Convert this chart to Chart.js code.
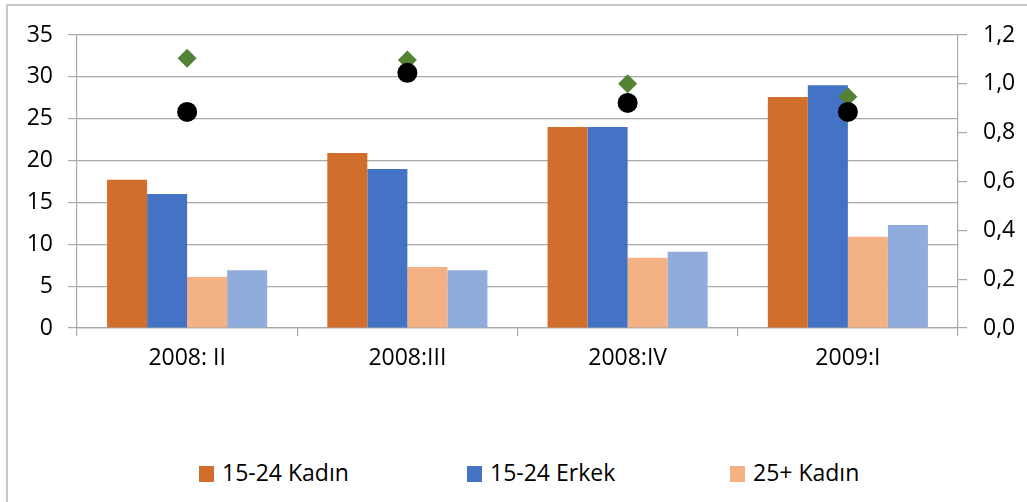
<!DOCTYPE html>
<html>
<head>
<meta charset="utf-8">
<script src="https://cdn.jsdelivr.net/npm/chart.js@4/dist/chart.umd.min.js"></script>
<style>
    body { margin: 0; background: #fff; }
    #wrap { position: relative; width: 1027px; height: 502px; overflow: hidden; font-family: 'Open Sans', sans-serif; }
    #frame { position: absolute; left: 6px; top: 4px; width: 1100px; height: 600px; border: 2px solid #c9c9c9; }
    #chartBox { position: absolute; left: 0; top: 0; width: 1027px; height: 420px; }
    .legend-item { position: absolute; top: 455px; font-size: 23px; color: #000; white-space: nowrap; line-height: 34px; }
    .legend-item span { display: inline-block; width: 15px; height: 16px; margin-right: 8px; vertical-align: -1px; }
</style>
</head>
<body>
<div id="wrap">
    <div id="frame"></div>
    <div id="chartBox"><canvas id="barChart"></canvas></div>
    <div id="legend"></div>
</div>
<script>
var categories = ['2008: II', '2008:III', '2008:IV', '2009:I'];
var kadin1524 = [17.7, 20.9, 24.0, 27.6];
var erkek1524 = [16.0, 19.0, 24.0, 29.0];
var kadin25 = [6.1, 7.3, 8.4, 10.9];
var erkek25 = [6.9, 6.9, 9.1, 12.3];
var oranDiamond = [1.105, 1.098, 1.0, 0.947];
var oranCircle = [0.885, 1.045, 0.922, 0.885];
var leftTicks = [0, 5, 10, 15, 20, 25, 30, 35];
var rightTicks = [0, 0.2, 0.4, 0.6, 0.8, 1.0, 1.2];

var gridColor = '#a9a9a9';
var tickFont = { family: 'Open Sans', size: 23 };

var barSeries = [
    { label: '15-24 Kadın', data: kadin1524, color: '#D26E2B' },
    { label: '15-24 Erkek', data: erkek1524, color: '#4472C4' },
    { label: '25+ Kadın', data: kadin25, color: '#F4B183' },
    { label: '25+ Erkek', data: erkek25, color: '#8FACDC' }
];

var datasets = barSeries.map(function(s) {
    return {
        type: 'bar',
        label: s.label,
        data: s.data,
        backgroundColor: s.color,
        borderWidth: 0,
        yAxisID: 'y',
        categoryPercentage: 0.727,
        barPercentage: 1.0
    };
});

datasets.push({
    type: 'line',
    label: 'Oran (25+)',
    data: oranDiamond,
    yAxisID: 'y1',
    showLine: false,
    pointStyle: 'rectRot',
    pointRadius: 9.5,
    pointBackgroundColor: '#548235',
    pointBorderColor: '#548235',
    pointBorderWidth: 0,
    order: -1
});
datasets.push({
    type: 'line',
    label: 'Oran (15-24)',
    data: oranCircle,
    yAxisID: 'y1',
    showLine: false,
    pointStyle: 'circle',
    pointRadius: 10,
    pointBackgroundColor: '#000000',
    pointBorderColor: '#000000',
    pointBorderWidth: 0,
    order: -2
});

new Chart(document.getElementById('barChart'), {
    type: 'bar',
    data: { labels: categories, datasets: datasets },
    options: {
        responsive: true,
        maintainAspectRatio: false,
        animation: false,
        layout: { padding: { top: 35, left: 0, right: 0, bottom: 0 } },
        plugins: { legend: { display: false }, tooltip: { enabled: false } },
        scales: {
            x: {
                offset: true,
                grid: { offset: true, drawOnChartArea: false, color: gridColor, tickLength: 8, lineWidth: 1.2 },
                border: { color: gridColor, width: 1.2 },
                ticks: { color: '#000', font: tickFont, padding: 9, maxRotation: 0 },
                afterFit: function(scale) { scale.height = 92; }
            },
            y: {
                position: 'left',
                min: 0,
                max: 35,
                afterBuildTicks: function(scale) { scale.ticks = leftTicks.map(function(v) { return { value: v }; }); },
                grid: { color: gridColor, tickLength: 9, lineWidth: 1.2 },
                border: { color: gridColor, width: 1.2 },
                ticks: { color: '#000', font: tickFont, padding: 15 },
                afterFit: function(scale) { scale.width = 77; }
            },
            y1: {
                position: 'right',
                min: 0,
                max: 1.2,
                afterBuildTicks: function(scale) { scale.ticks = rightTicks.map(function(v) { return { value: v }; }); },
                grid: { drawOnChartArea: false, color: gridColor, tickLength: 9, lineWidth: 1.2 },
                border: { color: gridColor, width: 1.2 },
                ticks: {
                    color: '#000',
                    font: tickFont,
                    padding: 16,
                    callback: function(v) { return v.toFixed(1).replace('.', ','); }
                },
                afterFit: function(scale) { scale.width = 69; }
            }
        }
    }
});

// legend under the chart (only the first three entries are visible in the original)
var legendLeft = [199, 467, 730];
var htmlBuild = '';
barSeries.slice(0, 3).forEach(function(s, i) {
    htmlBuild += '<div class="legend-item" style="left:' + legendLeft[i] + 'px"><span style="background:' + s.color + '"></span>' + s.label + '</div>';
});
document.getElementById('legend').innerHTML = htmlBuild;
</script>
</body>
</html>
